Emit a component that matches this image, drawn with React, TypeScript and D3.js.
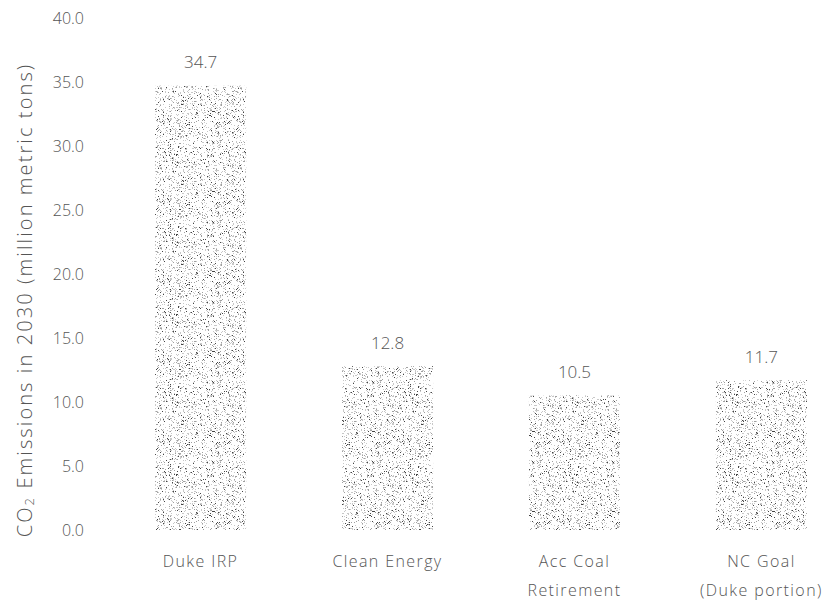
import React from "react";
import * as d3 from "d3";

const categories: string[][] = [["Duke IRP"], ["Clean Energy"], ["Acc Coal", "Retirement"], ["NC Goal", "(Duke portion)"]];
const values: number[] = [34.7, 12.8, 10.5, 11.7];
const valueLabels: string[] = ["34.7", "12.8", "10.5", "11.7"];
const yTicks: number[] = [0, 5, 10, 15, 20, 25, 30, 35, 40];

const W = 831;
const H = 601;
const FONT = "'Open Sans', Lato, sans-serif";
const TEXT = "#555555";

function makeDots() {
  // deterministic stipple texture
  let s = 987654;
  const rnd = () => {
    s = (s * 1103515245 + 12345) % 2147483648;
    return s / 2147483648;
  };
  const dots: { x: number; y: number; c: string }[] = [];
  for (let i = 0; i < 1400; i++) {
    const x = Math.floor(rnd() * 80);
    const y = Math.floor(rnd() * 80);
    const t = rnd();
    const c = t < 0.14 ? "#454545" : t < 0.45 ? "#a0a0a0" : "#c8c8c8";
    dots.push({ x, y, c });
  }
  return dots;
}

export default function App() {
  const x = d3.scaleBand<number>().domain(d3.range(values.length)).range([150, 812]).paddingInner(0.513).paddingOuter(0.027);
  const y = d3.scaleLinear().domain([0, 40]).range([530, 18]);
  const dots = makeDots();

  return (
    <svg width={W} height={H} style={{ position: "absolute", left: 0, top: 0, background: "#fff" }}>
      <defs>
        <pattern id="stip" patternUnits="userSpaceOnUse" width={80} height={80}>
          <rect width={80} height={80} fill="#ffffff" />
          {dots.map((d, i) => (
            <rect key={i} x={d.x} y={d.y} width={1} height={1} fill={d.c} />
          ))}
        </pattern>
      </defs>
      <rect width={W} height={H} fill="#fff" />
      {yTicks.map((t) => (
        <text key={t} x={84} y={y(t)} textAnchor="end" dominantBaseline="central"
          fontFamily={FONT} fontWeight={300} fontSize={16} fill={TEXT}>
          {t.toFixed(1)}
        </text>
      ))}
      <text transform={`translate(24,${300}) rotate(-90)`} textAnchor="middle" dominantBaseline="central"
        fontFamily={FONT} fontWeight={300} fontSize={20} fill={TEXT} letterSpacing={2.1}>
        CO<tspan fontSize={13} dy={5}>2</tspan><tspan dy={-5}> Emissions in 2030 (million metric tons)</tspan>
      </text>
      {values.map((v, i) => (
        <g key={i}>
          <rect x={x(i)!} y={y(v)} width={x.bandwidth()} height={y(0) - y(v)} fill="url(#stip)" />
          <text x={x(i)! + x.bandwidth() / 2} y={y(v) - 24} textAnchor="middle" dominantBaseline="central"
            fontFamily={FONT} fontWeight={300} fontSize={17} fill={TEXT}>
            {valueLabels[i]}
          </text>
          {categories[i].map((line, j) => (
            <text key={j} x={x(i)! + x.bandwidth() / 2} y={561 + j * 29} textAnchor="middle" dominantBaseline="central"
              fontFamily={FONT} fontWeight={300} fontSize={16} fill={TEXT} letterSpacing={1.4}>
              {line}
            </text>
          ))}
        </g>
      ))}
    </svg>
  );
}
